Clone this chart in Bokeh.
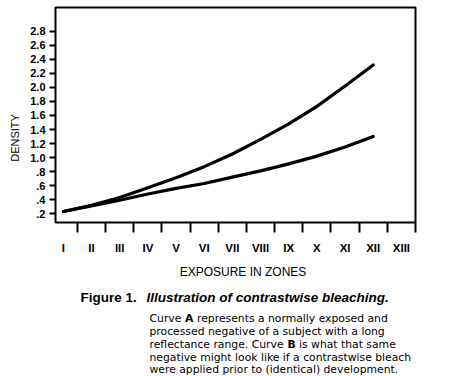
from bokeh.plotting import figure
from bokeh.layouts import column
from bokeh.models import Range1d, FixedTicker
from bokeh.core.properties import value
from bokeh.embed import file_html
from bokeh.resources import INLINE

# ---- data ----
zones = [1, 2, 3, 4, 5, 6, 7, 8, 9, 10, 11, 12]
curve_a = [0.23, 0.32, 0.43, 0.57, 0.71, 0.87, 1.05, 1.26, 1.48, 1.73, 2.02, 2.32]
curve_b = [0.23, 0.31, 0.39, 0.48, 0.56, 0.63, 0.72, 0.81, 0.91, 1.02, 1.15, 1.30]

zone_ticks = [1, 2, 3, 4, 5, 6, 7, 8, 9, 10, 11, 12, 13]
zone_labels = ["I", "II", "III", "IV", "V", "VI", "VII", "VIII", "IX", "X", "XI", "XII", "XIII"]
zone_bounds = [1.5, 2.5, 3.5, 4.5, 5.5, 6.5, 7.5, 8.5, 9.5, 10.5, 11.5, 12.5, 13.5]
density_ticks = [0.2, 0.4, 0.6, 0.8, 1.0, 1.2, 1.4, 1.6, 1.8, 2.0, 2.2, 2.4, 2.6, 2.8]
density_labels = [".2", ".4", ".6", ".8", "1.0", "1.2", "1.4", "1.6", "1.8", "2.0",
                  "2.2", "2.4", "2.6", "2.8"]

x_title = "EXPOSURE IN ZONES"
y_title = "DENSITY"
fig_label = "Figure  1."
fig_title = "Illustration of contrastwise bleaching."

FONT = "Liberation Sans"
BODY_FONT = "DejaVu Sans"

W = 448
H1 = 256          # chart canvas
H2 = 119          # caption canvas
LEFT, RIGHT = 55, 415   # page x of the plot frame (shared by both canvases)

p = figure(width=W, height=H1,
           x_range=Range1d(0.72, 13.5), y_range=Range1d(0.073, 3.141),
           output_backend="svg", toolbar_location=None,
           min_border_left=LEFT, min_border_right=W - RIGHT,
           min_border_top=7, min_border_bottom=24)
p.background_fill_color = "white"
p.border_fill_color = "white"
p.outline_line_color = "black"
p.outline_line_width = 2
p.xgrid.visible = False
p.ygrid.visible = False

for ys in (curve_a, curve_b):
    p.line(zones, ys, line_color="black", line_width=3.2, line_cap="round", line_join="round")

# x axis: labels at zone centres, tick marks between zones
xa = p.xaxis[0]
xa.ticker = FixedTicker(ticks=zone_ticks, minor_ticks=zone_bounds)
xa.major_label_overrides = {t: l for t, l in zip(zone_ticks, zone_labels)}
xa.axis_line_color = None
xa.major_tick_line_color = None
xa.major_tick_out = 0
xa.major_tick_in = 0
xa.minor_tick_line_color = "black"
xa.minor_tick_line_width = 2
xa.minor_tick_out = 10
xa.minor_tick_in = 0
xa.major_label_standoff = 9
xa.major_label_text_font = FONT
xa.major_label_text_font_style = "bold"
xa.major_label_text_font_size = "11.5px"
xa.major_label_text_color = "black"

ya = p.yaxis[0]
ya.ticker = FixedTicker(ticks=density_ticks)
ya.major_label_overrides = {t: l for t, l in zip(density_ticks, density_labels)}
ya.axis_line_color = None
ya.major_tick_line_color = "black"
ya.major_tick_line_width = 2
ya.major_tick_out = 6
ya.major_tick_in = 0
ya.minor_tick_line_color = None
ya.major_label_standoff = 4
ya.major_label_text_font = FONT
ya.major_label_text_font_style = "bold"
ya.major_label_text_font_size = "11px"
ya.major_label_text_color = "black"
# trailing no-break spaces push the (centred) vertical title down, as in the original
ya.axis_label = y_title + "\u00a0" * 15
ya.axis_label_text_font = FONT
ya.axis_label_text_font_style = "normal"
ya.axis_label_text_font_size = "11px"
ya.axis_label_text_color = "black"
ya.axis_label_standoff = 6

# caption canvas: its frame is aligned with the chart frame; data x = page x,
# data y = page y (downward)
cap = figure(width=W, height=H2, x_range=Range1d(LEFT, RIGHT), y_range=Range1d(H1 + H2, H1),
             output_backend="svg", toolbar_location=None,
             x_axis_location=None, y_axis_location=None,
             min_border_left=LEFT, min_border_right=W - RIGHT,
             min_border_top=0, min_border_bottom=0)
cap.outline_line_color = None
cap.xgrid.visible = False
cap.ygrid.visible = False
cap.background_fill_color = "white"
cap.border_fill_color = "white"


def txt(px, py, text, size="11px", font=FONT, style="normal", align="left"):
    cap.text(x=[px], y=[py], text=[text], text_font=value(font),
             text_font_size=size, text_font_style=style, text_color="black",
             text_align=align, text_baseline="alphabetic")


txt(242.5, 271, x_title, size="12px", align="center")
txt(80, 297, fig_label, size="13.5px", style="bold")
txt(146, 297, fig_title, size="13.5px", style="bold italic")

BS = "10.8px"
bx = 149
by = [318, 331, 344, 357, 369]
txt(bx, by[0], "Curve", size=BS, font=BODY_FONT)
txt(184.5, by[0], "A", size=BS, font=BODY_FONT, style="bold")
txt(196.5, by[0], "represents a normally exposed and", size=BS, font=BODY_FONT)
txt(bx, by[1], "processed negative of a subject with a long", size=BS, font=BODY_FONT)
txt(bx, by[2], "reflectance range. Curve", size=BS, font=BODY_FONT)
txt(287, by[2], "B", size=BS, font=BODY_FONT, style="bold")
txt(298.5, by[2], "is what that same", size=BS, font=BODY_FONT)
txt(bx, by[3], "negative might look like if a contrastwise bleach", size=BS, font=BODY_FONT)
txt(bx, by[4], "were applied prior to (identical) development.", size=BS, font=BODY_FONT)

layout = column(p, cap, spacing=0)
open("out.html", "w").write(file_html(layout, INLINE))
